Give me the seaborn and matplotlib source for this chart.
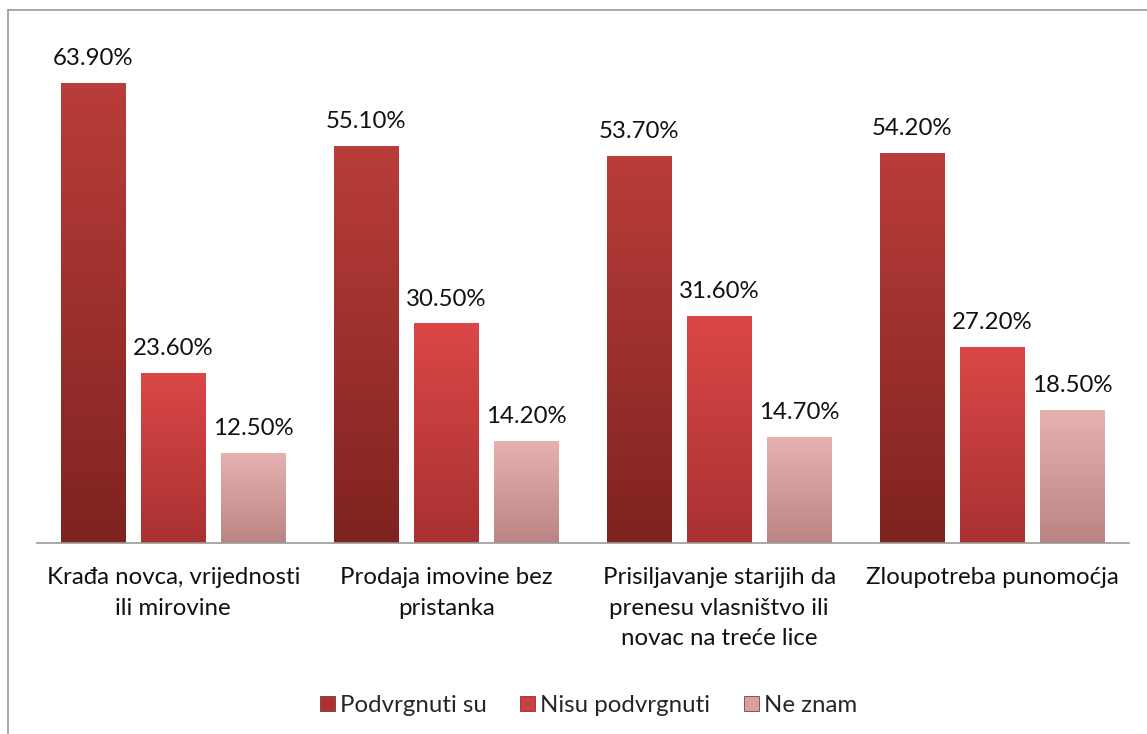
import numpy as np
import pandas as pd
import matplotlib
matplotlib.use("Agg")
import matplotlib.pyplot as plt
import matplotlib.colors as mcolors
import seaborn as sns

categories = [
    "Krađa novca, vrijednosti\nili mirovine",
    "Prodaja imovine bez\npristanka",
    "Prisiljavanje starijih da\nprenesu vlasništvo ili\nnovac na treće lice",
    "Zloupotreba punomoćja",
]
series = ["Podvrgnuti su", "Nisu podvrgnuti", "Ne znam"]
podvrgnuti = [63.9, 55.1, 53.7, 54.2]
nisu_podvrgnuti = [23.6, 30.5, 31.6, 27.2]
ne_znam = [12.5, 14.2, 14.7, 18.5]

colors = ["#A8332F", "#CF3E3D", "#D9A1A1"]
grad = [("#B93D39", "#7F2320"), ("#DB4747", "#A93131"), ("#E6B1B1", "#BC8585")]

df = pd.DataFrame({
    "kategorija": categories * 3,
    "serija": [s for s in series for _ in categories],
    "vrijednost": podvrgnuti + nisu_podvrgnuti + ne_znam,
})

sns.set_style("white")
plt.rcParams["font.family"] = ["Lato", "DejaVu Sans"]
fs = 17.3

fig = plt.figure(figsize=(11.47, 7.34), dpi=100)
ax = fig.add_axes([0.032, 0.26, 0.952, 0.687])

sns.barplot(data=df, x="kategorija", y="vrijednost", hue="serija",
            palette=colors, width=0.88, gap=0.2, ax=ax, legend=False,
            edgecolor="none")

# gradient fill for the bars
for container, (top, bot) in zip(ax.containers, grad):
    cmap = mcolors.LinearSegmentedColormap.from_list("g", [bot, top])
    for bar in container:
        x0, y0 = bar.get_x(), bar.get_y()
        w, h = bar.get_width(), bar.get_height()
        g = np.linspace(0, 1, 100).reshape(-1, 1)
        im = ax.imshow(g, cmap=cmap, origin="lower", aspect="auto",
                       extent=[x0, x0 + w, y0, y0 + h], zorder=bar.get_zorder() + 0.1)
        im.set_clip_path(bar)
        bar.set_edgecolor("#6a2020")
        bar.set_linewidth(0.6)
    ax.bar_label(container, labels=[f"{v:.2f}%" for v in container.datavalues],
                 padding=10, fontsize=fs, color="#111111")

ax.set_xlim(-0.5, 3.5)
ax.set_ylim(0, 70)

for s in ["top", "right", "left"]:
    ax.spines[s].set_visible(False)
ax.spines["bottom"].set_color("#999999")
ax.spines["bottom"].set_linewidth(1.2)
ax.set_yticks([])
ax.set_xlabel("")
ax.set_ylabel("")
ax.tick_params(axis="x", length=0, pad=17, labelsize=fs, colors="#111111")
ax.set_xticks(range(len(categories)))
ax.set_xticklabels(categories, va="top", ha="center", linespacing=1.58)

handles = [plt.Rectangle((0, 0), 1, 1, facecolor=c, edgecolor="#6a2020", linewidth=0.5)
           for c in colors]
fig.legend(handles, series, loc="center", bbox_to_anchor=(0.513, 0.039), ncol=3,
           frameon=False, fontsize=fs, handlelength=0.63, handleheight=0.63,
           handletextpad=0.2, columnspacing=1.4)

# outer frame (left and top visible)
fig.add_artist(plt.Line2D([0.007, 0.007], [0.0, 0.986], color="#999999", lw=1.2))
fig.add_artist(plt.Line2D([0.007, 1.0], [0.986, 0.986], color="#999999", lw=1.2))

fig.savefig("out.png", dpi=100)
